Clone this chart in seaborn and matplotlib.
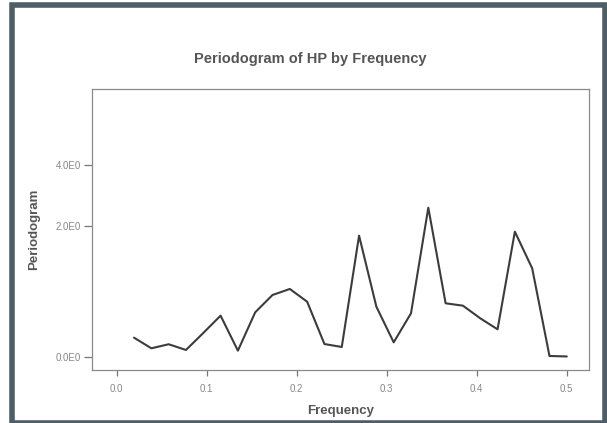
import numpy as np
import pandas as pd
import matplotlib
matplotlib.use("Agg")
import matplotlib.pyplot as plt
from matplotlib.patches import Rectangle
import seaborn as sns

# Periodogram of HP (52 observations -> Fourier frequencies k/52)
frequency = [0.01923, 0.03846, 0.05769, 0.07692, 0.09615, 0.11538, 0.13462,
             0.15385, 0.17308, 0.19231, 0.21154, 0.23077, 0.25000, 0.26923,
             0.28846, 0.30769, 0.32692, 0.34615, 0.36538, 0.38462, 0.40385,
             0.42308, 0.44231, 0.46154, 0.48077, 0.50000]
periodogram = [0.173, 0.073, 0.110, 0.058, 0.220, 0.411, 0.052, 0.451, 0.678,
               0.765, 0.586, 0.112, 0.085, 1.760, 0.521, 0.128, 0.439, 2.490,
               0.565, 0.534, 0.380, 0.258, 1.854, 1.099, 0.006, 0.002]

x_ticks = [0.0, 0.1, 0.2, 0.3, 0.4, 0.5]
x_tick_labels = ["0.0", "0.1", "0.2", "0.3", "0.4", "0.5"]
y_ticks = [0.0, 2.0, 4.0]
y_tick_labels = ["0.0E0", "2.0E0", "4.0E0"]

df = pd.DataFrame({"Frequency": frequency, "Periodogram": periodogram})

sns.set_theme(style="white")
plt.rcParams["font.family"] = ["Liberation Sans", "DejaVu Sans"]

W, H = 607, 423
fig = plt.figure(figsize=(W / 100, H / 100), dpi=100)
fig.patch.set_facecolor("white")

# outer chart frame
frame_col = "#4f5d66"
fig.patches.append(Rectangle((12 / W, 1 - 423 / H), 593 / W, 418 / H,
                             transform=fig.transFigure, fill=False,
                             edgecolor=frame_col, linewidth=4.0))

ax = fig.add_axes([91.7 / W, 1 - 370 / H, (589.3 - 91.7) / W, (370 - 89.3) / H])
ax.set_facecolor("white")

sns.lineplot(data=df, x="Frequency", y="Periodogram", ax=ax,
             color="#3c3c3c", linewidth=1.5)

# compressed (log(1 + y)) vertical scale
ax.set_yscale("function", functions=(np.log1p, np.expm1))
ax.set_xlim(-0.0278, 0.525)
ax.set_ylim(-0.1056, 8.42)

ax.set_xticks(x_ticks)
ax.set_xticklabels(x_tick_labels)
ax.set_yticks(y_ticks)
ax.set_yticklabels(y_tick_labels)
ax.minorticks_off()

ax.tick_params(axis="both", direction="out", length=6, width=0.9,
               color="#777777", labelcolor="#888888", labelsize=7,
               left=True, bottom=True, pad=2)
ax.tick_params(axis="x", length=4, pad=6)

for side in ["left", "right", "top", "bottom"]:
    ax.spines[side].set_visible(True)
    ax.spines[side].set_color("#8a8a8a")
    ax.spines[side].set_linewidth(0.9)

ax.set_xlabel("Frequency", fontsize=9.5, fontweight="bold", color="#555555",
              labelpad=8)
ax.set_ylabel("Periodogram", fontsize=9.5, fontweight="bold", color="#555555",
              labelpad=11)

fig.text(310 / W, 1 - 59 / H, "Periodogram of HP by Frequency",
         ha="center", va="center", fontsize=10.5, fontweight="bold",
         color="#555555")

fig.savefig("out.png", dpi=100)
